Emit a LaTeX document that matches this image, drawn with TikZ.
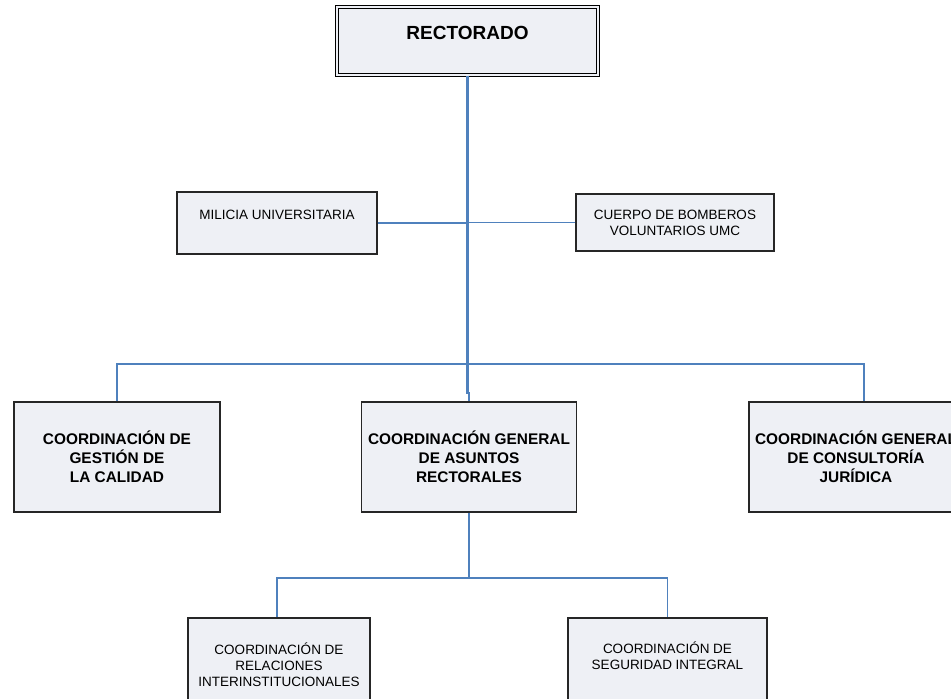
\documentclass[tikz,border=0pt]{standalone}
\usepackage{fontspec}
\setmainfont{Liberation Sans}
\definecolor{boxfill}{RGB}{238,240,245}
\definecolor{linkblue}{RGB}{79,129,189}
\begin{document}
\begin{tikzpicture}[x=1pt,y=-1pt,
box/.style={draw=black!85,line width=1.2pt,fill=boxfill,inner sep=0pt,align=center},
big/.style={font=\fontsize{15.4}{19}\selectfont\bfseries},
small/.style={font=\fontsize{13.5}{16}\selectfont},
link/.style={draw=linkblue,line width=1.2pt},
mainlink/.style={draw=linkblue,line width=2.2pt}]
\useasboundingbox (0,0) rectangle (951,699);
\node[box,draw=black,line width=1pt,double=boxfill,double distance=2pt,minimum width=261,minimum height=68,text depth=16pt,font=\fontsize{19}{22}\selectfont\bfseries](rect) at (467.5,41){RECTORADO};
\node[box,small,minimum width=200,minimum height=62,text depth=16pt](milicia) at (277,223){MILICIA UNIVERSITARIA};
\node[box,small,minimum width=198,minimum height=57](cuerpo) at (675,222.5){CUERPO DE BOMBEROS\\VOLUNTARIOS UMC};
\node[box,big,minimum width=206,minimum height=110](gestion) at (117,457){COORDINACI\'ON DE\\GESTI\'ON DE\\ LA CALIDAD};
\node[box,big,minimum width=215,minimum height=110](asuntos) at (469,457){COORDINACI\'ON GENERAL\\DE ASUNTOS\\RECTORALES};
\node[box,big,minimum width=214,minimum height=110](juridica) at (856,457){COORDINACI\'ON GENERAL\\DE CONSULTOR\'IA\\JUR\'IDICA};
\node[box,small,minimum width=182,minimum height=104,text depth=10pt](relaciones) at (279,670){COORDINACI\'ON DE\\RELACIONES\\INTERINSTITUCIONALES};
\node[box,small,minimum width=199,minimum height=104,text depth=28pt](seguridad) at (667.5,670){COORDINACI\'ON DE\\SEGURIDAD INTEGRAL};
\coordinate(bar) at (467.5,364);
\coordinate(split) at (469,578);
\draw[mainlink](rect.south)--(467.5,393)-|(asuntos.north);
\draw[mainlink](gestion.north)|-(bar);
\draw[link](bar)-|([xshift=8pt]juridica.north);
\draw[link](milicia.east)--(milicia.east-|rect.south);
\draw[link](cuerpo.west)--(cuerpo.west-|rect.south);
\draw[link](asuntos.south)--(split);
\draw[link]([xshift=-2pt]relaciones.north)|-(split)-|(seguridad.north);
\end{tikzpicture}
\end{document}
